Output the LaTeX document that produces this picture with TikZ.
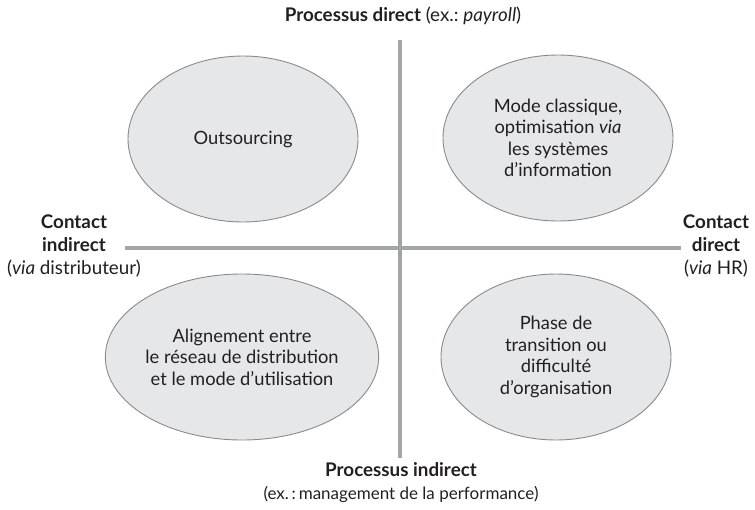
\documentclass[tikz,border=0pt]{standalone}
\usepackage{fontspec}
\setmainfont{Lato}
\usetikzlibrary{shapes.geometric}
\definecolor{axisgray}{HTML}{A3A5A8}
\definecolor{ellfill}{HTML}{E6E7E8}
\definecolor{elldraw}{HTML}{8A8A8C}
\definecolor{txt}{HTML}{231F20}
\tikzset{
  quad/.style={ellipse, draw=elldraw, fill=ellfill, line width=0.9pt,
    minimum width=230pt, minimum height=166pt, inner sep=0pt,
    align=center, text=txt, font=\fontsize{18.3}{21.5}\selectfont},
  axis/.style={draw=axisgray, line width=4pt},
  lab/.style={align=center, text=txt, font=\fontsize{18.8}{23}\selectfont, inner sep=0pt}
}
\frenchspacing
\begin{document}
\begin{tikzpicture}[x=1pt,y=-1pt]
\useasboundingbox (0,0) rectangle (755,509);
\coordinate (vtop) at (400,40);
\coordinate (vbot) at (400,458);
\coordinate (hleft) at (125,248);
\coordinate (hright) at (681,248);
\draw[axis] (vtop) -- (vbot);
\draw[axis] (hleft) -- (hright);

\node[quad] (tl) at (243,139) {Outsourcing};
\node[quad] (tr) at (558,138) {Mode classique,\\optimisation \textit{via}\\les systèmes\\d’information};
\node[quad] (bl) at (242,357) {Alignement entre\\le réseau de distribution\\et le mode d’utilisation};
\node[quad] (br) at (556,357) {Phase de\\transition ou\\difficulté\\d’organisation};

\node[lab, anchor=center] (top) at (403,16) {\textbf{Processus direct} (ex.: \textit{payroll})};
\node[lab] (left) at (74,246) {\textbf{Contact}\\\textbf{indirect}\\(\textit{via} distributeur)};
\node[lab] (right) at (716,246) {\textbf{Contact}\\\textbf{direct}\\(\textit{via} HR)};
\node[lab] (bottom) at (401,483) {\textbf{Processus indirect}\\{\fontsize{17}{23}\selectfont(ex.\,:\,management de la performance)}};
\end{tikzpicture}
\end{document}
